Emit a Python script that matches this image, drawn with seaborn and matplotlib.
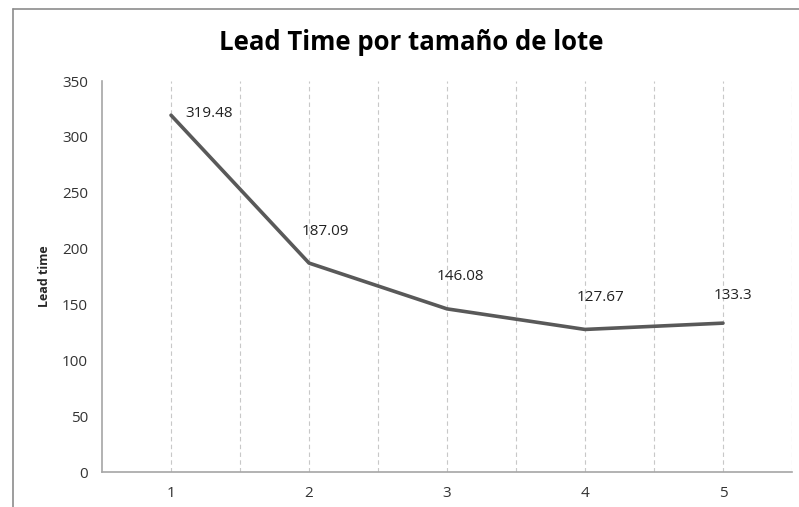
import matplotlib
matplotlib.use("Agg")
import matplotlib.pyplot as plt
import seaborn as sns
import pandas as pd
from matplotlib.lines import Line2D

# ------------------------------------------------------------
# Datos
# ------------------------------------------------------------
lotes = [1, 2, 3, 4, 5]
lead_time = [319.48, 187.09, 146.08, 127.67, 133.3]
etiquetas = ["319.48", "187.09", "146.08", "127.67", "133.3"]
y_ticks = [0, 50, 100, 150, 200, 250, 300, 350]

# desplazamiento de las etiquetas (en puntos)
offsets = [(10, 1), (12, 23), (10, 23), (11, 23), (7, 20)]

df = pd.DataFrame({"lote": lotes, "lead": lead_time})

sns.set_style("white")
plt.rcParams["font.family"] = ["Open Sans", "DejaVu Sans"]

fig = plt.figure(figsize=(7.99, 5.07), dpi=100)
ax = fig.add_axes([0.1277, 0.069, 0.8635, 0.771])

sns.lineplot(data=df, x="lote", y="lead", color="#595959", linewidth=2.6, ax=ax)

# etiquetas de datos
for x, y, txt, off in zip(lotes, lead_time, etiquetas, offsets):
    ax.annotate(txt, (x, y), xytext=off, textcoords="offset points",
                ha="left" if off[1] < 5 else "center", va="center",
                fontsize=11, color="#222222")

ax.set_xlim(0.5, 5.5)
ax.set_ylim(0, 350)
ax.set_yticks(y_ticks)
ax.set_xticks(lotes)
ax.tick_params(axis="both", labelsize=11, colors="#333333", length=0, pad=10)

# lineas verticales punteadas (categorias y limites)
for xv in [v / 2 for v in range(2, 12)]:
    ax.axvline(xv, color="#c8c8c8", linestyle=(0, (4, 3)), linewidth=0.8, zorder=0)

for s in ["top", "right"]:
    ax.spines[s].set_visible(False)
for s in ["left", "bottom"]:
    ax.spines[s].set_color("#a6a6a6")
    ax.spines[s].set_linewidth(1.2)

ax.set_xlabel("")
ax.set_ylabel("Lead time", fontsize=9, fontweight="bold", labelpad=8)

fig.text(0.515, 0.917, "Lead Time por tamaño de lote", ha="center", va="center",
         fontsize=18.5, fontweight="bold", color="#000000")

# borde del area del grafico
fig.add_artist(Line2D([13 / 799, 1.0], [1 - 9 / 507, 1 - 9 / 507],
                      transform=fig.transFigure, color="#8c8c8c", linewidth=1.2))
fig.add_artist(Line2D([13 / 799, 13 / 799], [0.0, 1 - 9 / 507],
                      transform=fig.transFigure, color="#8c8c8c", linewidth=1.2))

fig.savefig("out.png", dpi=100)
plt.close()
